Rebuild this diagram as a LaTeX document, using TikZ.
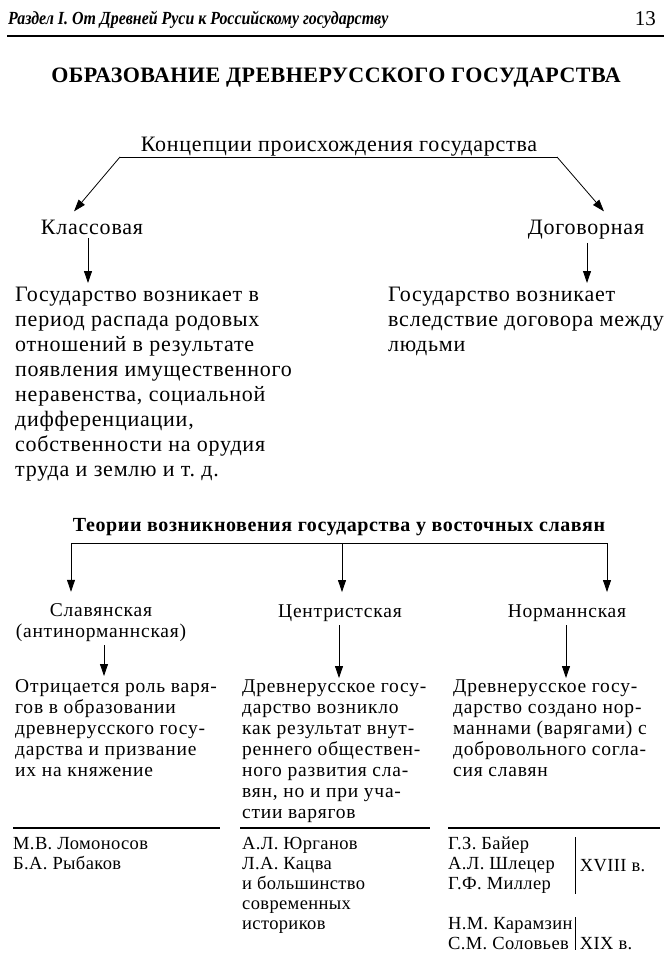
\documentclass[tikz,border=0pt]{standalone}
\usepackage{fontspec}
\setmainfont{Liberation Serif}
\newfontfamily\headfont[FakeStretch=0.86]{Liberation Serif}
\newfontfamily\wideA[LetterSpace=3.5]{Liberation Serif}
\newfontfamily\wideB[LetterSpace=4]{Liberation Serif}
\newfontfamily\wideC[LetterSpace=2]{Liberation Serif}
\newfontfamily\wideT[LetterSpace=2]{Liberation Serif}
\newfontfamily\wideS[LetterSpace=3]{Liberation Serif}
\usetikzlibrary{arrows.meta,positioning}

\tikzset{
  txt/.style={inner sep=0pt, font=\wideA\fontsize{22}{25}\selectfont},
  para/.style={txt, anchor=north west, align=left},
  sm/.style={inner sep=0pt, font=\wideB\fontsize{19.5}{21}\selectfont},
  smpara/.style={sm, anchor=north west, align=left},
  names/.style={inner sep=0pt, anchor=north west, align=left, font=\wideC\fontsize{18.5}{20}\selectfont},
  arr/.style={-{Triangle[length=12pt,width=8pt]}, line width=0.8pt},
  rule/.style={line width=1.1pt}
}

\begin{document}
\begin{tikzpicture}[x=1pt,y=-1pt]
\useasboundingbox (0,0) rectangle (671,968);

% page header
\node[anchor=base west, inner sep=0pt, font=\headfont\fontsize{18.5}{20}\selectfont\bfseries\itshape] (head) at (8,25) {Раздел I. От Древней Руси к Российскому государству};
\node[anchor=base east, inner sep=0pt, font=\fontsize{21}{24}\selectfont] (pnum) at (656,26) {13};
\draw[line width=1.3pt] (7,36) -- (664,36);

\node[inner sep=0pt, font=\wideT\fontsize{22}{24}\selectfont\bfseries] (title) at (336,78) {ОБРАЗОВАНИЕ ДРЕВНЕРУССКОГО ГОСУДАРСТВА};

% concepts
\node[txt] (conc) at (339,147) {Концепции происхождения государства};
\coordinate (cl) at (120,157);
\coordinate (cr) at (557,157);
\node[txt, anchor=base] (klass) at (92,234) {Классовая};
\node[txt, anchor=base] (dogov) at (586,234) {Договорная};
\node[para] (klassp) at (15,287) {Государство возникает в\\период распада родовых\\отношений в результате\\появления имущественного\\неравенства, социальной\\дифференциации,\\собственности на орудия\\труда и землю и т.~д.};
\node[para] (dogovp) at (388,287) {Государство возникает\\вследствие договора между\\людьми};

\draw (cl) -- (cr);
\draw[arr] (cl) -- ([shift={(-18,-8)}]klass.north);
\draw[arr] (cr) -- ([shift={(18,-8)}]dogov.north);
\draw[arr] ([shift={(-4,4)}]klass.south) -- ([shift={(-4,-4)}]klass.south |- klassp.north);
\draw[arr] ([shift={(1,4)}]dogov.south) -- ([shift={(1,-4)}]dogov.south |- dogovp.north);

% theories
\node[inner sep=0pt, font=\wideS\fontsize{20}{23}\selectfont\bfseries] (theo) at (339,527) {Теории возникновения государства у восточных славян};
\coordinate (tl) at (71,543);
\coordinate (tm) at (342,543);
\coordinate (tr) at (607,543);
\node[sm, align=center] (slav) at (101,623) {Славянская\\(антинорманнская)};
\node[sm, anchor=base] (centr) at (340,617) {Центристская};
\node[sm, anchor=base] (norm) at (567,617) {Норманнская};
\node[smpara] (slavp) at (15,679) {Отрицается роль варя-\\гов в образовании\\древнерусского госу-\\дарства и призвание\\их на княжение};
\node[smpara] (centrp) at (242,680) {Древнерусское госу-\\дарство возникло\\как результат внут-\\реннего обществен-\\ного развития сла-\\вян, но и при уча-\\стии варягов};
\node[smpara] (normp) at (453,680) {Древнерусское госу-\\дарство создано нор-\\маннами (варягами) с\\добровольного согла-\\сия славян};

\draw (tl) -- (tr);
\draw[arr] (tl) -- ([yshift=12pt]tl |- slav.north);
\draw[arr] (tm) -- ([yshift=12pt]tm |- centr.north);
\draw[arr] (tr) -- ([yshift=12pt]tr |- norm.north);
\draw[arr] ([shift={(3,3)}]slav.south) -- ([shift={(3,-3)}]slav.south |- slavp.north);
\draw[arr] ([shift={(-1,4)}]centr.south) -- ([shift={(-1,-2)}]centr.south |- centrp.north);
\draw[arr] ([shift={(-1,4)}]norm.south) -- ([shift={(-1,-2)}]norm.south |- normp.north);

% historians
\draw[rule] (13,828) -- (220,828);
\draw[rule] (240,828) -- (430,828);
\draw[rule] (448,828) -- (660,828);
\node[names] (slavn) at (13,837) {М.В. Ломоносов\\Б.А. Рыбаков};
\node[names] (centrn) at (242,837) {А.Л. Юрганов\\Л.А. Кацва\\и большинство\\современных\\историков};
\node[names] (normn) at (448,837) {Г.З. Байер\\А.Л. Шлецер\\Г.Ф. Миллер};
\node[names] (normn2) at (448,917) {Н.М. Карамзин\\С.М. Соловьев};
\draw ([xshift=2pt]normn.north -| normn2.east) -- ([xshift=2pt]normn.south -| normn2.east);
\draw ([xshift=2pt]normn2.north east) -- ([xshift=2pt]normn2.south east);
\node[names, anchor=west] (c18) at ([xshift=7pt]normn.west -| normn2.east) {XVIII в.};
\node[names, anchor=base west] (c19) at ([xshift=7pt]normn2.south east) {XIX в.};
\end{tikzpicture}
\end{document}
